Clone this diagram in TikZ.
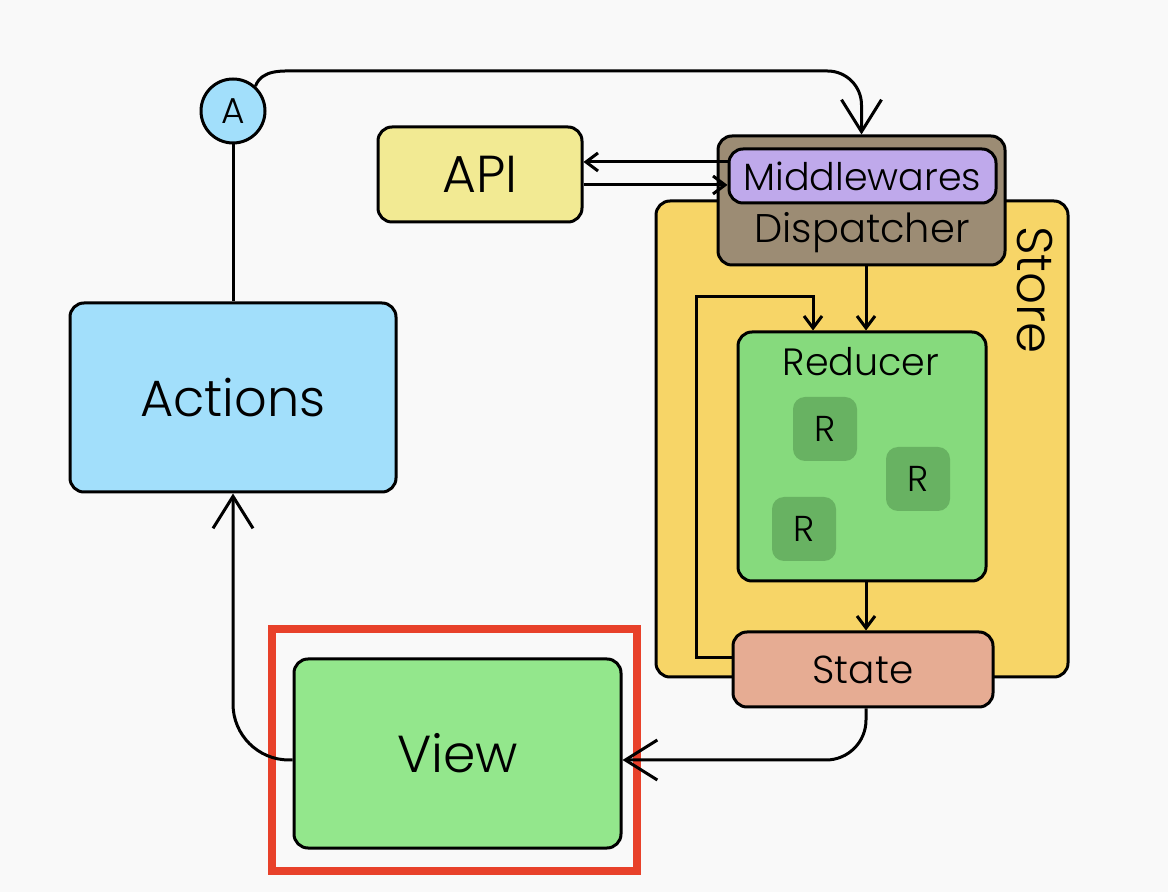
\documentclass[tikz,border=0pt]{standalone}
\usepackage{fontspec}
\setmainfont{Poppins}[UprightFont=* Light]
\usetikzlibrary{arrows.meta,calc}
\definecolor{bgcol}{HTML}{F9F9F9}
\definecolor{actblue}{HTML}{A2DFFB}
\definecolor{apiyel}{HTML}{F2EA93}
\definecolor{dispbrown}{HTML}{9C8C74}
\definecolor{mwpurple}{HTML}{BFA9EB}
\definecolor{storeyel}{HTML}{F7D567}
\definecolor{redgreen}{HTML}{86DA7D}
\definecolor{rgreen}{HTML}{68B262}
\definecolor{statered}{HTML}{E6AC93}
\definecolor{viewgreen}{HTML}{93E78C}
\definecolor{hlred}{HTML}{E8412A}
\newcommand{\fs}[1]{\fontsize{#1}{#1}\selectfont}
\begin{document}
\begin{tikzpicture}[x=0.5pt,y=-0.5pt,line width=1.5pt,
  box/.style={draw,rounded corners=7pt,inner sep=0pt},
  rbox/.style={fill=rgreen,rounded corners=6pt,minimum size=32pt,inner sep=0pt,font=\fs{18}},
  tipS/.style={-{Straight Barb[length=6pt,width=9pt]}},
  tipB/.style={-{Straight Barb[length=16pt,width=20pt]}}]
\fill[bgcol] (0,0) rectangle (1168,892);
\useasboundingbox (0,0) rectangle (1168,892);
% store and its parts
\node[box,fill=storeyel,minimum width=206pt,minimum height=238pt] (store) at (862,439) {};
\node[rotate=-90,font=\fs{25}] (storelbl) at (1035,290) {Store};
\node[box,fill=dispbrown,minimum width=143.5pt,minimum height=64.5pt] (disp) at (861.5,200.5) {};
\node[font=\fs{20}] (displbl) at (862,233) {Dispatcher};
\node[box,fill=mwpurple,minimum width=133.5pt,minimum height=27pt,font=\fs{19}] (mw) at (862.5,176) {Middlewares};
\node[box,fill=redgreen,minimum width=124pt,minimum height=124.5pt] (reducer) at (862,456.5) {};
\node[font=\fs{19}] (redlbl) at (861,362) {Reducer};
\node[rbox] (r1) at (825,429) {R};
\node[rbox] (r2) at (918,479) {R};
\node[rbox] (r3) at (804,529) {R};
\node[box,fill=statered,minimum width=130pt,minimum height=37.5pt,font=\fs{19.5}] (state) at (863,669.5) {State};
% left side
\node[circle,draw,fill=actblue,minimum size=32pt,inner sep=0pt,font=\fs{18}] (A) at (233,111) {A};
\node[box,fill=apiyel,minimum width=102pt,minimum height=47.5pt,font=\fs{26}] (api) at (480,174.5) {API};
\node[box,fill=actblue,minimum width=163pt,minimum height=94.5pt,font=\fs{25.5}] (actions) at (233,397.5) {Actions};
\node[box,fill=viewgreen,minimum width=163.5pt,minimum height=94.5pt,font=\fs{26}] (view) at (457.5,753.5) {View};
\node[draw=hlred,line width=4pt,minimum width=182.5pt,minimum height=121pt] (hl) at (454.5,750) {};
% connectors
\coordinate (topL) at (300,71);
\coordinate (loopA) at (696,297);
\draw (A) -- (actions);
\draw[tipB] (A.48) to[out=68,in=180] (topL) [rounded corners=17pt] -| (disp.north);
\draw[tipS] (mw.west |- 0,162) -- (api.east |- 0,162);
\draw[tipS] (api.east |- 0,185) -- (mw.west |- 0,185);
\draw[tipS] (disp.south -| 866,0) -- (reducer.north -| 866,0);
\draw[tipS] (reducer.south -| 866,0) -- (state.north -| 866,0);
\draw[tipS] (state.west |- 0,658) -| (loopA) -| ($(reducer.north)+(-49,0)$);
\draw[tipB,rounded corners=20pt] (state.south -| 866,0) |- (view.east |- 0,760);
\draw[tipB,rounded corners=28pt] (view.west |- 0,760) -| (actions.south);
\end{tikzpicture}
\end{document}
